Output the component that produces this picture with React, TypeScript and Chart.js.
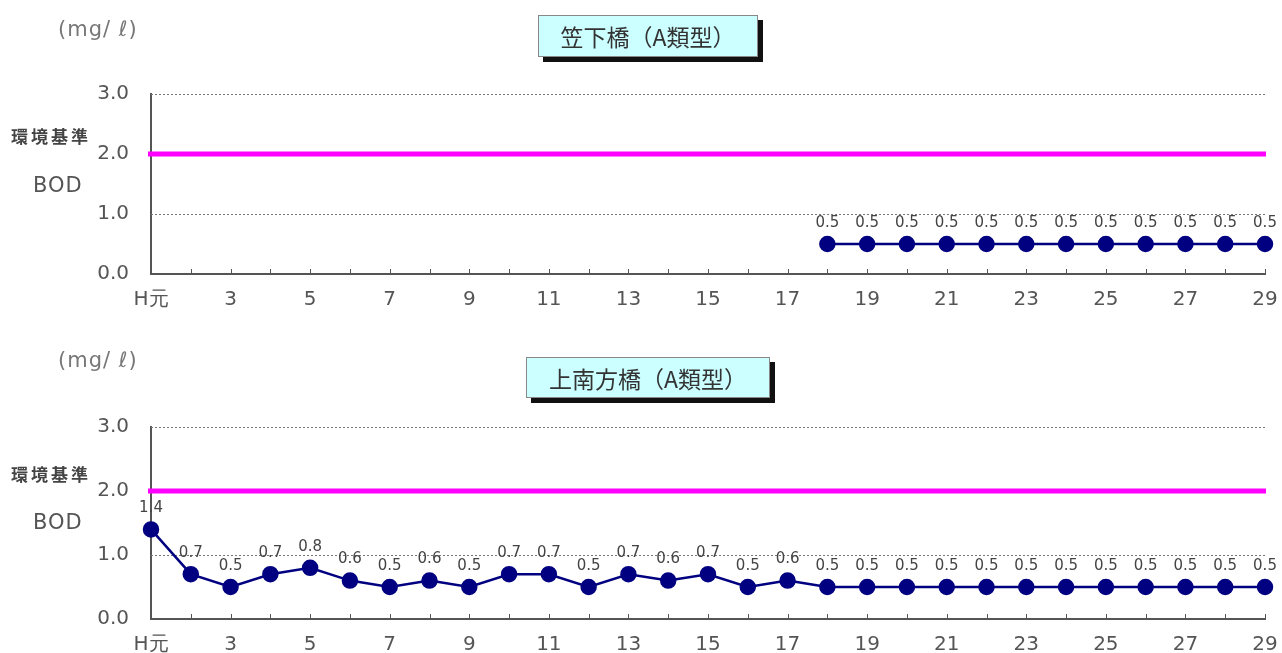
import React, { useEffect, useRef } from "react";
import { Chart, registerables } from "chart.js";
Chart.register(...registerables);

const years = ["H元","2","3","4","5","6","7","8","9","10","11","12","13","14","15","16","17","18","19","20","21","22","23","24","25","26","27","28","29"];
const kasashitaBOD: (number | null)[] = [null,null,null,null,null,null,null,null,null,null,null,null,null,null,null,null,null,0.5,0.5,0.5,0.5,0.5,0.5,0.5,0.5,0.5,0.5,0.5,0.5];
const kaminanpouBOD: (number | null)[] = [1.4,0.7,0.5,0.7,0.8,0.6,0.5,0.6,0.5,0.7,0.7,0.5,0.7,0.6,0.7,0.5,0.6,0.5,0.5,0.5,0.5,0.5,0.5,0.5,0.5,0.5,0.5,0.5,0.5];
const yMin = 0;
const yMax = 3;
const yStep = 1;
const envStandard = 2.0;
const title1 = "笠下橋（A類型）";
const title2 = "上南方橋（A類型）";

const FONT = "'DejaVu Sans', 'Noto Sans', sans-serif";
const CJK = "'Noto Sans CJK JP', 'Noto Sans CJK SC', sans-serif";

function makeChart(canvas: HTMLCanvasElement, data: (number | null)[], h: number, top: number, bottom: number) {
  const overlay = {
    id: "overlay",
    beforeDatasetsDraw(chart: any) {
      const { ctx, chartArea, scales } = chart;
      const y = scales.y;
      ctx.save();
      ctx.strokeStyle = "#777";
      ctx.lineWidth = 1;
      ctx.setLineDash([2, 2]);
      y.ticks.forEach((t: any) => {
        if (t.value <= yMin) return;
        const py = Math.round(y.getPixelForValue(t.value)) + 0.5;
        ctx.beginPath();
        ctx.moveTo(chartArea.left, py);
        ctx.lineTo(chartArea.right, py);
        ctx.stroke();
      });
      ctx.setLineDash([]);
      const sy = y.getPixelForValue(envStandard);
      ctx.strokeStyle = "#ff00ff";
      ctx.lineWidth = 5;
      ctx.beginPath();
      ctx.moveTo(chartArea.left - 3, sy);
      ctx.lineTo(chartArea.right + 1, sy);
      ctx.stroke();
      ctx.restore();
    },
    afterDatasetsDraw(chart: any) {
      const { ctx, chartArea, scales } = chart;
      const x = scales.x;
      const y = scales.y;
      ctx.save();
      ctx.strokeStyle = "#555";
      ctx.lineWidth = 1;
      years.forEach((_, i) => {
        const px = Math.round(x.getPixelForValue(i)) + 0.5;
        ctx.beginPath();
        ctx.moveTo(px, chartArea.bottom);
        ctx.lineTo(px, chartArea.bottom - 5);
        ctx.stroke();
      });
      ctx.fillStyle = "#444";
      ctx.font = "15px " + FONT;
      ctx.textAlign = "center";
      ctx.textBaseline = "middle";
      data.forEach((v, i) => {
        if (v === null) return;
        ctx.fillText(v.toFixed(1), x.getPixelForValue(i), y.getPixelForValue(v) - 21);
      });
      ctx.restore();
    },
  };

  return new Chart(canvas, {
    type: "line",
    data: {
      labels: years,
      datasets: [
        {
          data,
          borderColor: "#000080",
          backgroundColor: "#000080",
          borderWidth: 2.5,
          pointRadius: 7,
          pointHoverRadius: 7,
          pointBackgroundColor: "#000080",
          pointBorderColor: "#000080",
          tension: 0,
          spanGaps: false,
        },
      ],
    },
    options: {
      responsive: false,
      animation: false,
      devicePixelRatio: 1,
      events: [],
      layout: { padding: { top, right: 17, left: 0, bottom: 0 } },
      plugins: { legend: { display: false }, tooltip: { enabled: false }, title: { display: false } },
      scales: {
        x: {
          type: "category",
          offset: false,
          grid: { display: false, drawTicks: false },
          border: { display: true, color: "#555", width: 2 },
          ticks: {
            autoSkip: false,
            maxRotation: 0,
            minRotation: 0,
            padding: 14,
            color: "#555",
            font: { size: 20, family: FONT },
            callback: (_v: any, i: number) => (i % 2 === 0 ? years[i] : ""),
          },
          afterFit: (s: any) => {
            s.height = h - bottom;
            s.paddingLeft = 0;
            s.paddingRight = 0;
          },
        },
        y: {
          min: yMin,
          max: yMax,
          grid: { display: false, drawTicks: false },
          border: { display: true, color: "#555", width: 2 },
          ticks: {
            stepSize: yStep,
            padding: 22,
            color: "#555",
            font: { size: 20, family: FONT },
            callback: (v: any) => Number(v).toFixed(1),
          },
          afterFit: (s: any) => {
            s.width = 151;
            s.paddingTop = 0;
            s.paddingBottom = 0;
          },
        },
      },
    } as any,
    plugins: [overlay],
  });
}

function ChartBlock({ data, top, height, plotTop, plotBottom, title, box, mgTop, envTop, bodTop }: any) {
  const ref = useRef<HTMLCanvasElement | null>(null);
  useEffect(() => {
    if (!ref.current) return;
    const c = makeChart(ref.current, data, height, plotTop, plotBottom);
    return () => c.destroy();
  }, []);
  return (
    <div style={{ position: "absolute", left: 0, top, width: 1282, height }}>
      <canvas ref={ref} width={1282} height={height} style={{ position: "absolute", left: 0, top: 0, width: 1282, height }} />
      <div
        style={{
          position: "absolute",
          left: box.left,
          top: box.top,
          width: box.width,
          height: box.height,
          background: "#ccffff",
          border: "1px solid #888",
          boxShadow: "5px 5px 0 #111",
          boxSizing: "border-box",
          display: "flex",
          alignItems: "center",
          justifyContent: "center",
          fontFamily: CJK,
          fontSize: 23,
          color: "#333",
          whiteSpace: "nowrap",
        }}
      >
        {title}
      </div>
      <div style={{ position: "absolute", left: 58, top: mgTop, fontFamily: FONT, fontSize: 21, color: "#777", whiteSpace: "nowrap", letterSpacing: 1 }}>
        (mg/ ℓ)
      </div>
      <div style={{ position: "absolute", left: 11, top: envTop, fontFamily: CJK, fontSize: 17, fontWeight: 700, color: "#444", whiteSpace: "nowrap", letterSpacing: 3, lineHeight: "20px" }}>
        環境基準
      </div>
      <div style={{ position: "absolute", left: 33, top: bodTop, fontFamily: FONT, fontSize: 21, color: "#555", whiteSpace: "nowrap", letterSpacing: 1, lineHeight: "24px" }}>
        BOD
      </div>
    </div>
  );
}

export default function App() {
  useEffect(() => {
    document.body.style.margin = "0";
  }, []);
  return (
    <div style={{ position: "fixed", left: 0, top: 0, width: 1282, height: 653, background: "#fff", overflow: "hidden" }}>
      <ChartBlock
        data={kasashitaBOD}
        top={0}
        height={320}
        plotTop={94}
        plotBottom={274}
        title={title1}
        box={{ left: 538, top: 15, width: 220, height: 42 }}
        mgTop={17}
        envTop={126}
        bodTop={173}
      />
      <ChartBlock
        data={kaminanpouBOD}
        top={330}
        height={323}
        plotTop={97}
        plotBottom={289}
        title={title2}
        box={{ left: 526, top: 27, width: 244, height: 41 }}
        mgTop={18}
        envTop={134}
        bodTop={180}
      />
    </div>
  );
}
